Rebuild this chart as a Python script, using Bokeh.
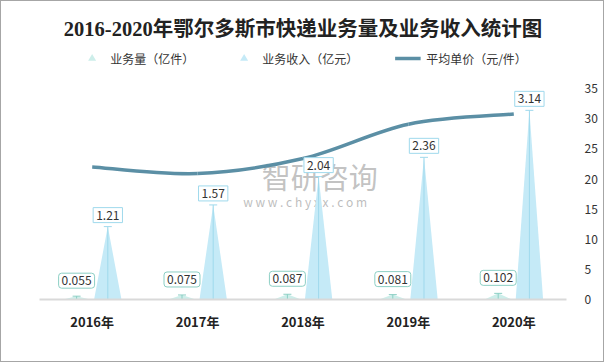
from bokeh.plotting import figure
from bokeh.models import Range1d, FixedTicker, Legend, LegendItem
from bokeh.core.properties import value
from bokeh.embed import file_html
from bokeh.resources import INLINE

years = ["2016年", "2017年", "2018年", "2019年", "2020年"]
volume = [0.055, 0.075, 0.087, 0.081, 0.102]      # 业务量（亿件）
revenue = [1.21, 1.57, 2.04, 2.36, 3.14]          # 业务收入（亿元）
price = [22.0, 20.9, 23.4, 29.1, 30.8]            # 平均单价（元/件）
right_ticks = [0, 5, 10, 15, 20, 25, 30, 35]

FONT = "Noto Sans CJK SC"
C_LINE = "#5b8fa5"
C_REV = "#c5eaf7"
C_REV_EDGE = "#9fd9ec"
C_VOL = "#cdeeea"
C_VOL_EDGE = "#8ccfc4"
NAN = float("nan")

p = figure(width=604, height=362, output_backend="svg", toolbar_location=None,
           x_range=Range1d(0, 5), y_range=Range1d(0, 42), y_axis_location="right",
           min_border_left=38, min_border_right=39, min_border_bottom=64, min_border_top=45,
           outline_line_color=None, background_fill_color="white", border_fill_color="white",
           styles={"border": "1px solid #a6a6a6"})
p.extra_y_ranges = {"bars": Range1d(0, 4.2)}

p.title.text = "2016-2020年鄂尔多斯市快递业务量及业务收入统计图"
p.title.align = "center"
p.title.text_font = "Liberation Serif, Noto Sans CJK SC"
p.title.text_font_size = "20.5px"
p.title.text_font_style = "bold"
p.title.text_color = "#222222"
p.title.standoff = 14

p.grid.visible = False

xa = p.xaxis[0]
xa.ticker = FixedTicker(ticks=[i + 0.5 for i in range(len(years))])
xa.major_label_overrides = {i + 0.5: y for i, y in enumerate(years)}
xa.major_tick_line_color = None
xa.minor_tick_line_color = None
xa.axis_line_color = "#d9d9d9"
xa.axis_line_width = 2
xa.major_label_text_font = FONT
xa.major_label_text_font_size = "13px"
xa.major_label_text_font_style = "bold"
xa.major_label_text_color = "#222222"
xa.major_label_standoff = 6

ya = p.yaxis[0]
ya.ticker = FixedTicker(ticks=right_ticks)
ya.axis_line_color = None
ya.major_tick_line_color = None
ya.minor_tick_line_color = None
ya.major_label_text_font = FONT
ya.major_label_text_font_size = "12px"
ya.major_label_text_color = "#333333"
ya.major_label_standoff = 12

# watermark
p.text(x=[2.66], y=[20.5], text=["智研咨询"], text_font=value(FONT), text_font_size="29px",
       text_color="#a8a8a8", text_alpha=0.7, text_align="center", text_baseline="middle")
p.text(x=[2.52], y=[16.3], text=["w w w . c h y x x . c o m"], text_font=value(FONT),
       text_font_size="12px", text_color="#a8a8a8", text_alpha=0.75,
       text_align="center", text_baseline="middle")

w = 0.26
off_v = -0.148
off_r = 0.148
n = len(years)

xs_v = [[i + 0.5 + off_v - w / 2, i + 0.5 + off_v, i + 0.5 + off_v + w / 2] for i in range(n)]
ys_v = [[0, v, 0] for v in volume]
p.patches(xs_v, ys_v, fill_color=C_VOL, line_color=None, y_range_name="bars")
xv = [i + 0.5 + off_v for i in range(n)]
p.segment(x0=xv, y0=[0] * n, x1=xv, y1=volume, line_color=C_VOL_EDGE, y_range_name="bars")
p.dash(x=xv, y=volume, size=8, line_color=C_VOL_EDGE, y_range_name="bars")

xs_r = [[i + 0.5 + off_r - w / 2, i + 0.5 + off_r, i + 0.5 + off_r + w / 2] for i in range(n)]
ys_r = [[0, v, 0] for v in revenue]
p.patches(xs_r, ys_r, fill_color=C_REV, line_color=None, y_range_name="bars")
xr = [i + 0.5 + off_r for i in range(n)]
p.segment(x0=xr, y0=[0] * n, x1=xr, y1=revenue, line_color=C_REV_EDGE, y_range_name="bars")
p.dash(x=xr, y=revenue, size=8, line_color=C_REV_EDGE, y_range_name="bars")

px = [i + 0.5 for i in range(n)]
x0, y0, x1, y1, cx0, cy0, cx1, cy1 = [], [], [], [], [], [], [], []
k = 0.5
for i in range(n - 1):
    pm = max(i - 1, 0)
    pn = min(i + 2, n - 1)
    x0.append(px[i]); y0.append(price[i]); x1.append(px[i + 1]); y1.append(price[i + 1])
    cx0.append(px[i] + (px[i + 1] - px[pm]) * k / 3)
    cy0.append(price[i] + (price[i + 1] - price[pm]) * k / 3)
    cx1.append(px[i + 1] - (px[pn] - px[i]) * k / 3)
    cy1.append(price[i + 1] - (price[pn] - price[i]) * k / 3)
p.bezier(x0=x0, y0=y0, x1=x1, y1=y1, cx0=cx0, cy0=cy0, cx1=cx1, cy1=cy1,
         line_color=C_LINE, line_width=3.5)

p.text(x=xv, y=volume, text=[f"{v:g}" for v in volume], y_range_name="bars",
       text_font=value(FONT), text_font_size="12px", text_color="#333333",
       text_align="center", text_baseline="bottom", y_offset=-8,
       background_fill_color="white", border_line_color=C_VOL_EDGE,
       padding=3, border_radius=3)
p.text(x=xr, y=revenue, text=[f"{v:g}" for v in revenue], y_range_name="bars",
       text_font=value(FONT), text_font_size="12px", text_color="#333333",
       text_align="center", text_baseline="bottom", y_offset=-4,
       background_fill_color="white", border_line_color=C_REV_EDGE, padding=3)

lv = p.scatter(x=[NAN], y=[NAN], marker="triangle", size=14, fill_color=C_VOL, line_color=None)
lr = p.scatter(x=[NAN], y=[NAN], marker="triangle", size=14, fill_color=C_REV, line_color=None)
ll = p.line(x=[NAN, NAN], y=[NAN, NAN], line_color=C_LINE, line_width=3.5)
legend = Legend(items=[LegendItem(label="业务量（亿件）", renderers=[lv]),
                       LegendItem(label="业务收入（亿元）", renderers=[lr]),
                       LegendItem(label="平均单价（元/件）", renderers=[ll])],
                orientation="horizontal", location="top_center",
                label_text_font=FONT, label_text_font_size="12px", label_text_color="#333333",
                glyph_width=26, glyph_height=20, spacing=36, label_standoff=6,
                padding=2, margin=2, border_line_color=None, background_fill_alpha=0)
p.add_layout(legend)

open("out.html", "w").write(file_html(p, INLINE))
